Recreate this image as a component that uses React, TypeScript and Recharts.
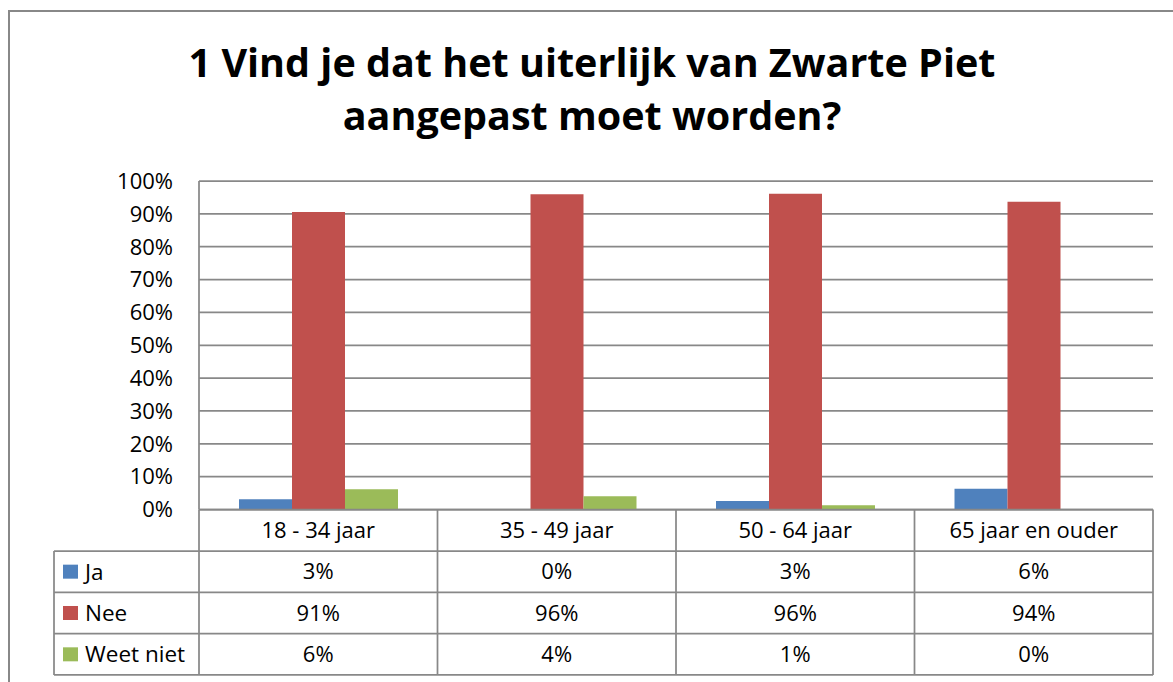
import React from "react";
import { BarChart, Bar, XAxis, YAxis, CartesianGrid } from "recharts";

const categories = ["18 - 34 jaar", "35 - 49 jaar", "50 - 64 jaar", "65 jaar en ouder"];
const jaValues = [3.1, 0, 2.6, 6.3];
const neeValues = [90.6, 96.0, 96.1, 93.7];
const weetNietValues = [6.2, 4.0, 1.3, 0];
const yTicks = [0, 10, 20, 30, 40, 50, 60, 70, 80, 90, 100];

const seriesKeys = ["ja", "nee", "weetNiet"];
const seriesNames = ["Ja", "Nee", "Weet niet"];
const seriesColors = ["#4F81BD", "#C0504D", "#9BBB59"];
const seriesValues = [jaValues, neeValues, weetNietValues];

const data = categories.map((category, i) => ({
  category,
  ja: jaValues[i],
  nee: neeValues[i],
  weetNiet: weetNietValues[i],
}));

const W = 1173;
const H = 682;
const plotLeft = 199;
const plotRight = 1153;
const plotTop = 181;
const plotBottom = 509.5;
const tableLeft = 54;
const headerBottom = 551;
const rowH = 41.33;
const lineColor = "#888888";
const font = "'Open Sans', sans-serif";

const DataTable = () => {
  const colW = (plotRight - plotLeft) / categories.length;
  const tableBottom = headerBottom + rowH * 3;
  return (
    <svg
      width={W}
      height={H}
      style={{ position: "absolute", left: 0, top: 0, pointerEvents: "none" }}
      fontFamily={font}
    >
      {/* chart frame */}
      <path d={`M9,${H} V11 H${W}`} fill="none" stroke={lineColor} strokeWidth={2} />

      {/* title */}
      <text x={592} y={77} textAnchor="middle" fontSize={39.5} fontWeight={700} fill="#000">
        1 Vind je dat het uiterlijk van Zwarte Piet
      </text>
      <text x={592} y={130} textAnchor="middle" fontSize={39.5} fontWeight={700} fill="#000">
        aangepast moet worden?
      </text>

      {/* table lines */}
      <line x1={plotLeft} x2={plotRight} y1={plotBottom} y2={plotBottom} stroke={lineColor} strokeWidth={1.75} />
      {[0, 1, 2, 3].map((r) => (
        <line
          key={r}
          x1={tableLeft}
          x2={plotRight}
          y1={headerBottom + rowH * r}
          y2={headerBottom + rowH * r}
          stroke={lineColor}
          strokeWidth={1.75}
        />
      ))}
      <line x1={tableLeft} x2={tableLeft} y1={headerBottom} y2={tableBottom} stroke={lineColor} strokeWidth={1.75} />
      {[0, 1, 2, 3, 4].map((c) => (
        <line
          key={c}
          x1={plotLeft + colW * c}
          x2={plotLeft + colW * c}
          y1={plotBottom}
          y2={tableBottom}
          stroke={lineColor}
          strokeWidth={1.75}
        />
      ))}

      {/* header labels */}
      {categories.map((c, i) => (
        <text
          key={c}
          x={plotLeft + colW * (i + 0.5)}
          y={(plotBottom + headerBottom) / 2}
          dy="0.355em"
          textAnchor="middle"
          fontSize={22}
          fill="#000"
        >
          {c}
        </text>
      ))}

      {/* rows */}
      {seriesNames.map((name, r) => {
        const cy = headerBottom + rowH * (r + 0.5);
        return (
          <g key={name}>
            <rect x={63} y={cy - 7} width={15} height={14} fill={seriesColors[r]} />
            <text x={85} y={cy} dy="0.355em" fontSize={22.5} fill="#000">
              {name}
            </text>
            {seriesValues[r].map((v, i) => (
              <text
                key={i}
                x={plotLeft + colW * (i + 0.5)}
                y={cy}
                dy="0.355em"
                textAnchor="middle"
                fontSize={22}
                fill="#000"
              >
                {`${Math.round(v)}%`}
              </text>
            ))}
          </g>
        );
      })}
    </svg>
  );
};

export default function App() {
  return (
    <div
      style={{
        position: "absolute",
        left: 0,
        top: 0,
        width: W,
        height: H,
        background: "#fff",
        overflow: "hidden",
      }}
    >
      <BarChart
        width={W}
        height={H}
        data={data}
        margin={{ top: plotTop, right: W - plotRight, bottom: H - plotBottom, left: plotLeft - 60 }}
        barCategoryGap={40}
        barGap={0}
      >
        <CartesianGrid vertical={false} stroke={lineColor} strokeWidth={1.75} />
        <XAxis dataKey="category" hide />
        <YAxis
          width={60}
          domain={[0, 100]}
          ticks={yTicks}
          interval={0}
          tickFormatter={(v) => `${v}%`}
          axisLine={{ stroke: lineColor, strokeWidth: 1.75 }}
          tickLine={false}
          tickSize={0}
          tickMargin={26}
          tick={{ fill: "#000", fontSize: 22, fontFamily: font }}
        />
        {seriesKeys.map((k, i) => (
          <Bar key={k} dataKey={k} name={seriesNames[i]} fill={seriesColors[i]} isAnimationActive={false} />
        ))}
      </BarChart>
      <DataTable />
    </div>
  );
}
